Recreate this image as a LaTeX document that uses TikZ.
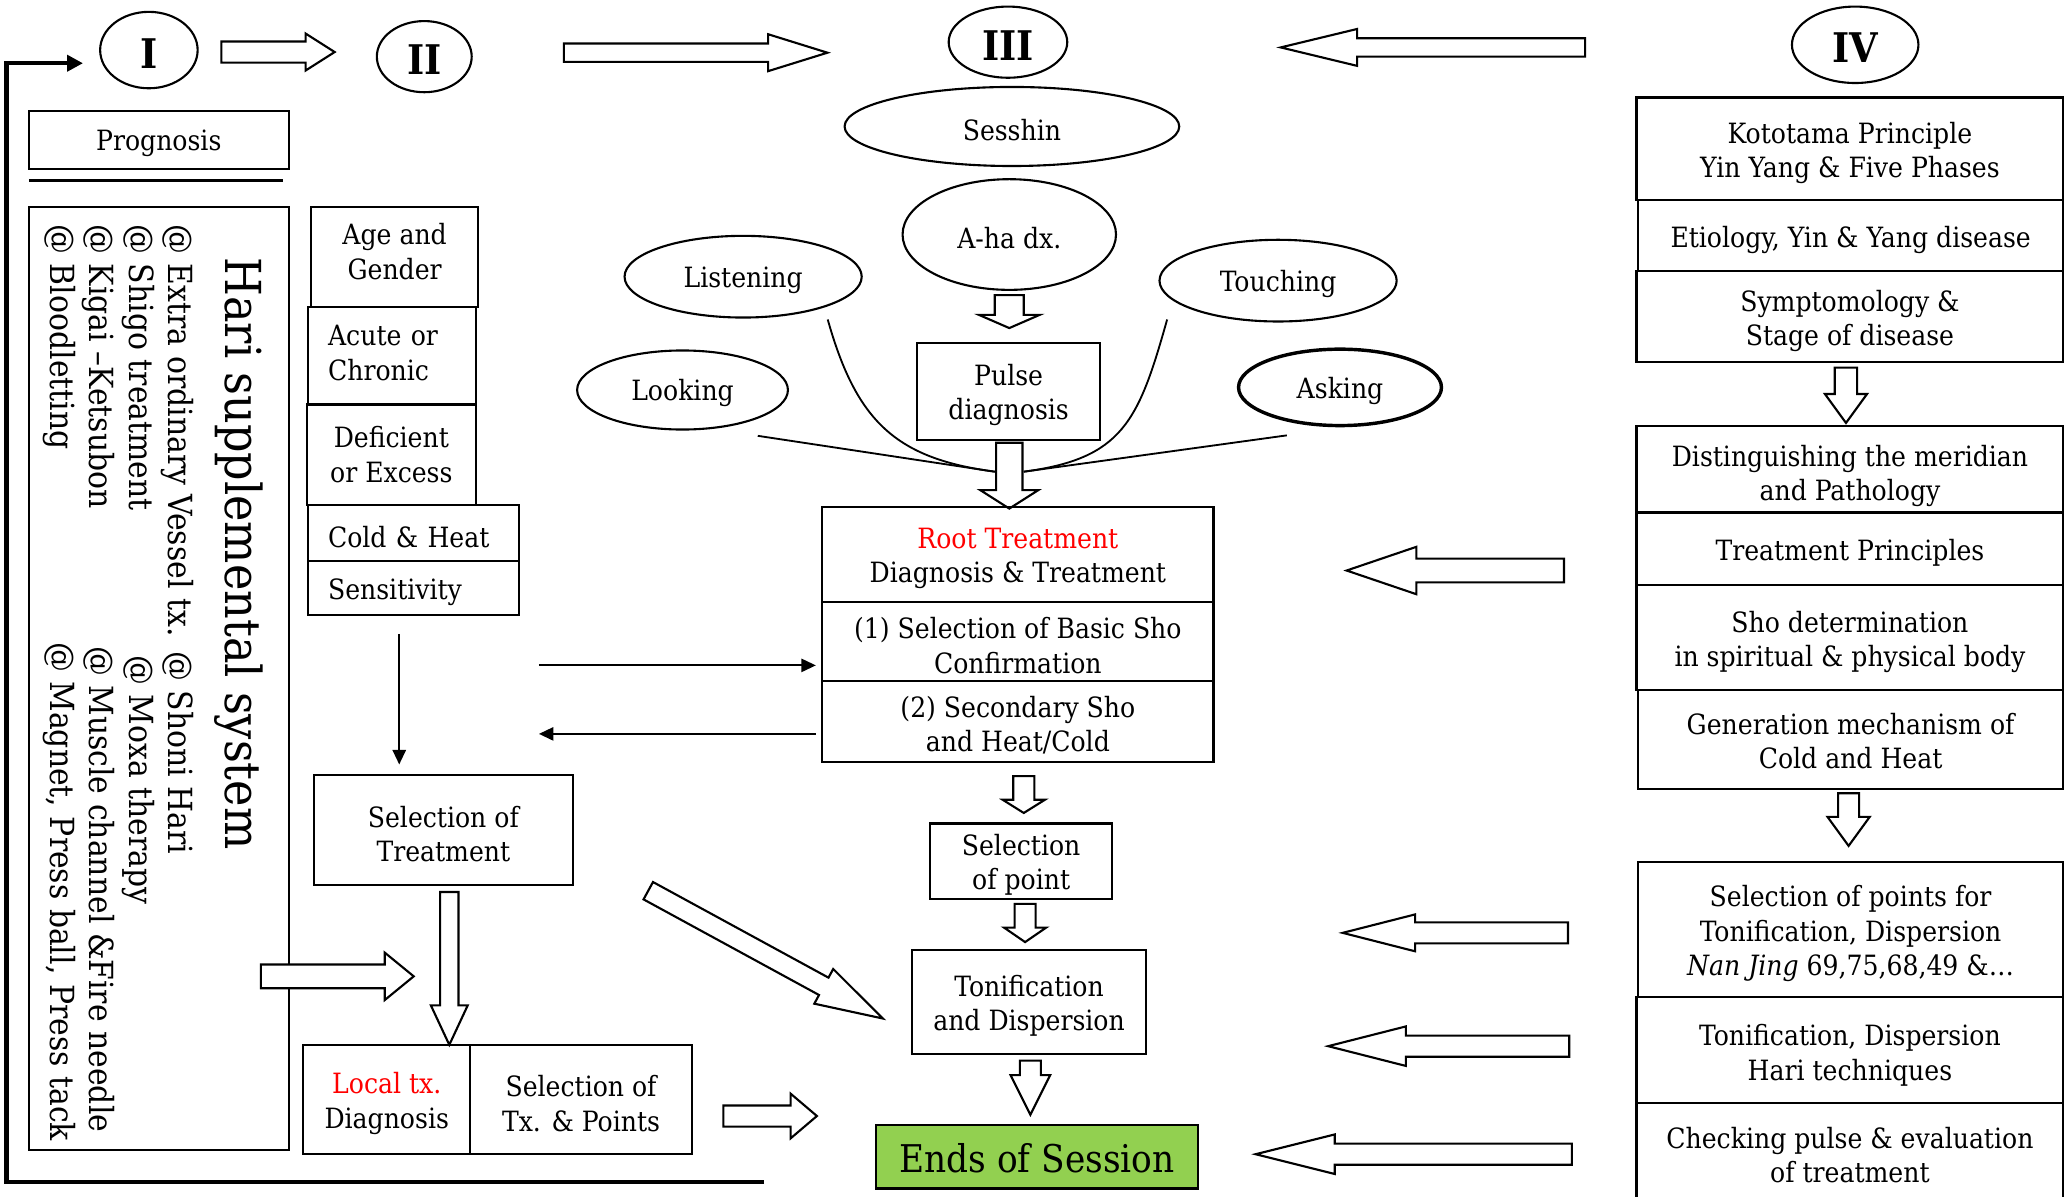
\documentclass[tikz,border=0pt]{standalone}
\usepackage{fontspec}
\IfFontExistsTF{DejaVu Serif Condensed}{\setmainfont{DejaVu Serif Condensed}}{\setmainfont{DejaVu Serif}[Scale=0.9]}
\usetikzlibrary{shapes.geometric,arrows.meta,calc}
\definecolor{endgreen}{RGB}{146,208,80}
\newcommand\fs{\fontsize{10.6}{13}\selectfont}
\newcommand\lo[1]{\raisebox{-1.2pt}[\height][\depth]{#1}}
\tikzset{
  boxs/.style={draw, line width=0.8pt, inner sep=0pt},
  btext/.style={inner sep=0pt, align=center, font=\fs},
  ell/.style={draw, ellipse, line width=0.8pt, inner sep=0pt, font=\fs},
  roman/.style={draw, ellipse, line width=0.8pt, inner sep=0pt, font=\fontsize{15.5}{17}\selectfont\bfseries},
  barrowst/.style={draw, line width=0.8pt, fill=white, line join=miter},
  thinarr/.style={line width=0.8pt, -{Triangle[length=5.5pt,width=5pt]}},
  feed/.style={line width=1.6pt},
  lead/.style={line width=0.7pt},
  vtext/.style={rotate=-90, anchor=west, inner sep=0pt, font=\fontsize{12.6}{14}\selectfont},
}
% box: [text opts]{name}{x1}{y1}{x2}{y2}{text}
\newcommand\bx[7][]{\node[boxs, minimum width={(#5-#3)*0.5pt}, minimum height={(#6-#4)*0.5pt}] (#2) at ({(#3+#5)/2},{(#4+#6)/2}) {};
  \node[btext, #1] (#2t) at ([yshift=-1.5pt]#2.center) {#7};}
% ellipse: [opts]{name}{cx}{cy}{rx}{ry}{text}
\newcommand\el[7][]{\node[ell, minimum width={#5*1pt}, minimum height={#6*1pt}, #1] (#2) at (#3,#4) {\lo{#7}};}
% block arrow: {tail}{tip}{shaft half}{head half}{head length}
\newcommand\barr[5]{\draw[barrowst] let \p1=#1, \p2=#2, \n1={atan2(\y2-\y1,\x2-\x1)}, \n2={veclen(\x2-\x1,\y2-\y1)} in
  [shift={(\p1)}, rotate=\n1]
  (0pt,{#3*0.5pt}) -- ({\n2-#5*0.5pt},{#3*0.5pt}) -- ({\n2-#5*0.5pt},{#4*0.5pt}) -- ({\n2*1pt},0pt) -- ({\n2-#5*0.5pt},{-#4*0.5pt}) -- ({\n2-#5*0.5pt},{-#3*0.5pt}) -- (0pt,{-#3*0.5pt}) -- cycle;}
\begin{document}
\begin{tikzpicture}[x=0.5pt,y=-0.5pt]
\useasboundingbox (0,0) rectangle (1568,908);

% roman numerals
\el[roman]{I}{113}{38}{37}{29}{I}
\el[roman]{II}{322}{43}{36}{27}{II}
\el[roman]{III}{765}{32}{45}{27}{III}
\el[roman]{IV}{1408}{34}{48}{29}{IV}

% top block arrows
\barr{(168,39.5)}{(254,39.5)}{8}{14}{22}
\barr{(428,40)}{(628,40)}{7}{14}{45}
\barr{(1203,36)}{(972,36)}{7}{14}{58}

% feedback loop
\coordinate (fbstart) at (580,897);
\coordinate (fbcorner1) at (5,897);
\coordinate (fbcorner2) at (5,48);
\coordinate (fbtip) at (63,48);
\draw[feed] (fbstart) -- (fbcorner1) -- (fbcorner2) -- ([xshift=-4pt]fbtip);
\draw[line width=1.6pt, -{Triangle[length=6pt,width=6pt]}] (fbcorner2) -- (fbtip);

% left column I
\bx{prog}{22}{84}{219}{128}{Prognosis}
\draw[line width=0.8pt] (22,137) -- (215,137);
\bx{hari}{22}{157}{219}{873}{}
\node[vtext, font=\fontsize{18.8}{21}\selectfont] (haritit) at (181,195) {Hari supplemental system};
\node[vtext] (h1) at (135,170) {@ Extra ordinary Vessel tx.};
\node[vtext] (h2) at (135,494) {@ Shoni Hari};
\node[vtext] (h3) at (105,170) {@ Shigo treatment};
\node[vtext] (h4) at (105,497) {@ Moxa therapy};
\node[vtext] (h5) at (75,170) {@ Kigai --Ketsubon};
\node[vtext] (h6) at (75,490) {@ Muscle channel \&Fire needle};
\node[vtext] (h7) at (45,170) {@ Bloodletting};
\node[vtext] (h8) at (45,487) {@ Magnet, Press ball, Press tack};

% column II
\bx[yshift=3.5pt]{ageg}{236}{157}{363}{233}{Age and\\Gender}
\bx[align=left, text width=48.5pt, yshift=2.5pt]{acute}{234}{233}{361}{307}{Acute or\\Chronic}
\bx[yshift=1.5pt]{defex}{233}{307}{361}{383}{Deficient\\or Excess}
\bx[align=left, text width=65pt]{coldheat}{234}{383}{394}{426}{Cold \& Heat}
\bx[align=left, text width=65pt]{sens}{234}{426}{394}{467}{Sensitivity}
\bx{seltreat}{238}{588}{435}{672}{Selection of\\Treatment}
\bx{localtx}{230}{793}{357}{876}{{\color{red}Local tx.}\\Diagnosis}
\bx{seltx}{357}{793}{525}{876}{Selection of\\Tx. \& Points}
\coordinate (a1) at (303,481);
\draw[thinarr, shorten >=3.5pt] (a1) -- (a1 |- seltreat.north);
\barr{(341,677)}{(341,793)}{7}{14}{30}
\barr{(198,741)}{(314,741)}{9}{18}{22}
\barr{(549,847)}{(620,847)}{8}{17}{20}
\barr{(492,676)}{(670,773)}{7.5}{15}{51}

% column III
\el{sesshin}{768}{96}{127}{30}{Sesshin}
\el{aha}{766}{178}{81}{42}{A-ha dx.}
\el{listening}{564}{210}{90}{31}{Listening}
\el{touching}{970}{213}{90}{31}{Touching}
\el{looking}{518}{296}{80}{30}{Looking}
\el[line width=1.3pt]{asking}{1017}{294}{77}{29}{Asking}
\bx{pulse}{696}{260}{835}{334}{Pulse\\diagnosis}
\coordinate (convL) at (755,358);
\coordinate (convR) at (777,358);
\draw[lead] ([yshift=-6.5pt]looking.south east) -- (convL);
\draw[lead] ([yshift=-5pt]listening.south east) .. controls (650,320) and (680,348) .. (convL);
\draw[lead] ([xshift=-10pt,yshift=-3.5pt]touching.south west) .. controls (864,320) and (852,348) .. (convR);
\draw[lead] ([xshift=7.5pt,yshift=-7.5pt]asking.south west) -- (convR);
\barr{(766,224)}{(766,249)}{11}{23}{10}
\barr{(766,336)}{(766,386)}{10}{22}{14}

\bx{root}{624}{385}{921}{457}{{\color{red}Root Treatment}\\Diagnosis \& Treatment}
\bx{sel1}{624}{457}{921}{517}{(1) Selection of Basic Sho\\Confirmation}
\bx{sec2}{624}{517}{921}{578}{(2) Secondary Sho\\and Heat/Cold}
\coordinate (r1) at (409,505);
\coordinate (r2) at (409,557);
\draw[thinarr, shorten >=2pt] (r1) -- (r1 -| sel1.west);
\draw[thinarr, shorten <=2pt] (r2 -| sec2.west) -- (r2);
\barr{(777,589)}{(777,617)}{8}{16}{10}
\bx{selpoint}{706}{625}{844}{682}{Selection\\of point}
\barr{(778,686)}{(778,715)}{8}{16}{11}
\bx{tonif}{692}{721}{870}{800}{Tonification\\and Dispersion}
\barr{(782,805)}{(782,846)}{8}{15}{30}
\node[boxs, fill=endgreen, minimum width=122pt, minimum height=24pt] (ends) at (787,878) {};
\node[btext, font=\fontsize{14.5}{17}\selectfont] (endst) at ([yshift=-0.5pt]ends.center) {Ends of Session};

% column IV
\bx{koto}{1242}{74}{1566}{152}{Kototama Principle\\Yin Yang \& Five Phases}
\bx{etio}{1243}{152}{1566}{206}{Etiology, Yin \& Yang disease}
\bx{sympt}{1242}{206}{1566}{275}{Symptomology \&\\Stage of disease}
\barr{(1401,279)}{(1401,321)}{8.5}{16}{22}
\bx[yshift=-1pt]{dist}{1242}{323}{1566}{389}{Distinguishing the meridian\\and Pathology}
\bx{tprin}{1242}{389}{1566}{444}{Treatment Principles}
\bx{sho}{1242}{444}{1566}{524}{Sho determination\\in spiritual \& physical body}
\bx[yshift=1pt]{gen}{1243}{524}{1566}{599}{Generation mechanism of\\Cold and Heat}
\barr{(1403,602)}{(1403,642)}{8}{16}{22}
\bx{selpts}{1243}{654}{1566}{757}{Selection of points for\\Tonification, Dispersion\\\textit{Nan Jing} 69,75,68,49 \&\ldots}
\bx[yshift=-0.5pt]{tonhari}{1242}{757}{1566}{837}{Tonification, Dispersion\\Hari techniques}
\bx{check}{1242}{837}{1566}{910}{Checking pulse \& evaluation\\of treatment}

% left-pointing block arrows
\barr{(1187,433)}{(1022,433)}{9}{18}{53}
\barr{(1190,708)}{(1019,708)}{8}{14}{55}
\barr{(1191,794)}{(1008,794)}{8}{15}{59}
\barr{(1193,876)}{(953,876)}{8}{15}{60}
\end{tikzpicture}
\end{document}
